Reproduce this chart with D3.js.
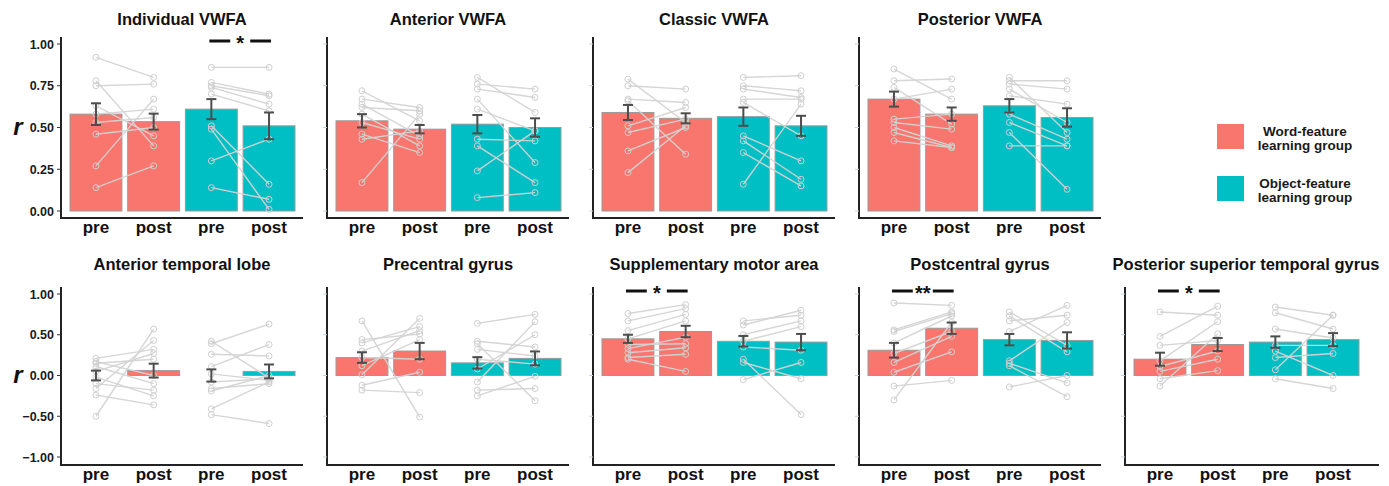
<!DOCTYPE html>
<html>
<head>
<meta charset="utf-8">
<script src="https://cdn.jsdelivr.net/npm/d3@7"></script>
<style>
  html, body { margin: 0; padding: 0; background: #fff; }
  svg { display: block; font-family: "Liberation Sans", Arial, sans-serif; }
</style>
</head>
<body>
<svg id="chart" width="1389" height="486"></svg>
<script>
// Regions of interest, one panel each
const regions = [
  "Individual VWFA", "Anterior VWFA", "Classic VWFA", "Posterior VWFA",
  "Anterior temporal lobe", "Precentral gyrus", "Supplementary motor area",
  "Postcentral gyrus", "Posterior superior temporal gyrus"
];

// Four bars per panel: word group pre/post, object group pre/post
const conditions = ["word-pre", "word-post", "object-pre", "object-post"];
const sessionLabels = ["pre", "post", "pre", "post"];
const groupColors = ["#F8766D", "#00BFC4"];
const legendLines = [["Word-feature", "learning group"], ["Object-feature", "learning group"]];

// Group mean r per region: [word pre, word post, object pre, object post]
const meanR = [
  [0.58, 0.535, 0.61, 0.51],
  [0.54, 0.49, 0.52, 0.50],
  [0.59, 0.555, 0.565, 0.51],
  [0.67, 0.58, 0.63, 0.56],
  [0.00, 0.06, 0.00, 0.05],
  [0.22, 0.30, 0.155, 0.21],
  [0.45, 0.54, 0.42, 0.41],
  [0.31, 0.58, 0.44, 0.43],
  [0.20, 0.38, 0.41, 0.44]
];

// Standard error of the mean, same layout as meanR
const seR = [
  [0.065, 0.048, 0.06, 0.08],
  [0.04, 0.025, 0.055, 0.055],
  [0.045, 0.03, 0.055, 0.06],
  [0.045, 0.04, 0.04, 0.055],
  [0.06, 0.085, 0.075, 0.085],
  [0.065, 0.10, 0.07, 0.085],
  [0.05, 0.07, 0.065, 0.10],
  [0.09, 0.07, 0.07, 0.10],
  [0.08, 0.08, 0.07, 0.08]
];

// Individual participants (word-feature group), pre and post, paired by position
const wordPre = [
  [0.92, 0.78, 0.75, 0.63, 0.58, 0.53, 0.46, 0.27, 0.14],
  [0.72, 0.67, 0.64, 0.62, 0.58, 0.53, 0.46, 0.43, 0.17],
  [0.79, 0.75, 0.67, 0.66, 0.51, 0.47, 0.36, 0.23],
  [0.85, 0.78, 0.74, 0.67, 0.55, 0.53, 0.50, 0.47, 0.42],
  [0.21, 0.17, 0.15, 0.11, 0.05, -0.02, -0.10, -0.16, -0.24, -0.50],
  [0.67, 0.44, 0.40, 0.30, 0.22, 0.12, 0.01, -0.12, -0.18],
  [0.76, 0.67, 0.55, 0.45, 0.38, 0.33, 0.28, 0.22, 0.20],
  [0.89, 0.56, 0.54, 0.40, 0.27, 0.16, 0.04, -0.13, -0.30],
  [0.78, 0.48, 0.37, 0.18, 0.11, 0.05, -0.04, -0.13]
];
const wordPost = [
  [0.80, 0.39, 0.76, 0.45, 0.61, 0.56, 0.50, 0.67, 0.27],
  [0.54, 0.62, 0.45, 0.60, 0.39, 0.43, 0.35, 0.48, 0.58],
  [0.53, 0.73, 0.65, 0.34, 0.62, 0.55, 0.50, 0.51],
  [0.67, 0.79, 0.52, 0.73, 0.58, 0.49, 0.39, 0.38, 0.38],
  [0.32, 0.00, 0.20, -0.10, 0.27, -0.25, -0.18, 0.43, -0.36, 0.57],
  [-0.51, 0.51, 0.60, 0.55, 0.20, 0.44, 0.70, 0.04, -0.21],
  [0.87, 0.82, 0.75, 0.67, 0.39, 0.47, 0.34, 0.26, 0.05],
  [0.86, 0.78, 0.76, 0.73, 0.54, 0.48, 0.29, -0.06, 0.65],
  [0.74, 0.85, 0.43, 0.66, 0.30, 0.20, 0.06, 0.51]
];

// Individual participants (object-feature group)
const objectPre = [
  [0.86, 0.77, 0.75, 0.74, 0.70, 0.51, 0.49, 0.30, 0.14],
  [0.80, 0.76, 0.73, 0.67, 0.61, 0.43, 0.39, 0.24, 0.08],
  [0.80, 0.75, 0.73, 0.67, 0.65, 0.45, 0.42, 0.35, 0.16],
  [0.80, 0.78, 0.76, 0.73, 0.69, 0.58, 0.53, 0.47, 0.39],
  [0.42, 0.39, 0.26, 0.11, 0.02, -0.08, -0.16, -0.19, -0.41, -0.48],
  [0.64, 0.42, 0.39, 0.32, 0.20, 0.08, -0.08, -0.18, -0.25],
  [0.67, 0.62, 0.50, 0.42, 0.35, 0.20, 0.16, -0.05],
  [0.78, 0.73, 0.67, 0.54, 0.18, 0.15, 0.12, -0.14],
  [0.84, 0.77, 0.57, 0.37, 0.30, 0.22, 0.07, -0.04]
];
const objectPost = [
  [0.86, 0.70, 0.69, 0.64, 0.60, 0.16, 0.01, 0.43, 0.07],
  [0.59, 0.73, 0.68, 0.29, 0.48, 0.42, 0.17, 0.48, 0.11],
  [0.81, 0.72, 0.68, 0.67, 0.45, 0.30, 0.19, 0.15, 0.64],
  [0.47, 0.78, 0.73, 0.53, 0.64, 0.43, 0.39, 0.13, 0.39],
  [-0.03, 0.63, 0.24, 0.38, -0.06, -0.04, -0.10, 0.00, -0.08, -0.59],
  [0.75, 0.35, -0.31, 0.24, 0.14, 0.50, 0.66, -0.16, -0.01],
  [0.74, 0.80, 0.67, 0.60, 0.31, -0.48, -0.04, 0.16],
  [0.37, 0.29, 0.74, 0.86, 0.65, -0.09, -0.26, 0.00],
  [0.74, 0.57, 0.46, 0.37, 0.00, 0.27, 0.74, -0.16]
];

// Significant pre vs post comparisons
const sigRegion = [0, 6, 7, 8];
const sigFrom = [2, 0, 0, 0];
const sigTo = [3, 1, 1, 1];
const sigLabel = ["*", "*", "**", "*"];

// Y axis ticks for the two rows
const topTicks = [0, 0.25, 0.5, 0.75, 1];
const bottomTicks = [-1, -0.5, 0, 0.5, 1];

const svg = d3.select("#chart");

const rowSpec = [
  { domain: [0, 1], range: [211, 44], top: 37, bottom: 218, ticks: topTicks, fmt: d3.format(".2f"), titleY: 25 },
  { domain: [-1, 1], range: [457, 294], top: 287, bottom: 465, ticks: bottomTicks, fmt: d3.format(".2f"), titleY: 270 }
];

const axisX0 = 61, colStep = 266;

regions.forEach((name, ri) => {
  const row = ri < 4 ? 0 : 1;
  const col = ri < 4 ? ri : ri - 4;
  const spec = rowSpec[row];
  const ax = axisX0 + col * colStep;
  const axisLen = ri === regions.length - 1 ? 254 : 242;

  const y = d3.scaleLinear().domain(spec.domain).range(spec.range);
  const x = d3.scaleBand().domain(conditions).range([ax + 9, ax + 234]).paddingInner(0.1).paddingOuter(0);
  const cx = c => x(c) + x.bandwidth() / 2;

  const g = svg.append("g");

  // Title
  g.append("text")
    .attr("x", ax + axisLen / 2 - (ri === regions.length - 1 ? 6 : 0))
    .attr("y", spec.titleY)
    .attr("text-anchor", "middle")
    .attr("font-size", 16.5).attr("font-weight", "bold").attr("fill", "#111")
    .text(name);

  // Bars
  g.selectAll("rect.bar").data(conditions).join("rect")
    .attr("class", "bar")
    .attr("x", c => x(c))
    .attr("width", x.bandwidth())
    .attr("y", (c, i) => Math.min(y(meanR[ri][i]), y(0)))
    .attr("height", (c, i) => Math.abs(y(meanR[ri][i]) - y(0)))
    .attr("fill", (c, i) => groupColors[i < 2 ? 0 : 1])
    .attr("stroke", "#9a9a9a").attr("stroke-width", 1);

  // Participant lines and points
  const groupsData = [[wordPre[ri], wordPost[ri], 0], [objectPre[ri], objectPost[ri], 2]];
  groupsData.forEach(([pre, post, k]) => {
    const xa = cx(conditions[k]), xb = cx(conditions[k + 1]);
    g.selectAll(null).data(pre).join("line")
      .attr("x1", xa).attr("x2", xb)
      .attr("y1", d => y(d)).attr("y2", (d, j) => y(post[j]))
      .attr("stroke", "#d4d4d4").attr("stroke-width", 1.4).attr("opacity", 0.95);
    g.selectAll(null).data(pre).join("circle")
      .attr("cx", xa).attr("cy", d => y(d)).attr("r", 3)
      .attr("fill", "none").attr("stroke", "#cfcfcf").attr("stroke-width", 1);
    g.selectAll(null).data(post).join("circle")
      .attr("cx", xb).attr("cy", d => y(d)).attr("r", 3)
      .attr("fill", "none").attr("stroke", "#cfcfcf").attr("stroke-width", 1);
  });

  // Error bars
  conditions.forEach((c, i) => {
    const m = meanR[ri][i], s = seR[ri][i];
    const xc = cx(c);
    const eb = g.append("g").attr("stroke", "#4d4d4d").attr("stroke-width", 2);
    eb.append("line").attr("x1", xc).attr("x2", xc).attr("y1", y(m - s)).attr("y2", y(m + s));
    eb.append("line").attr("x1", xc - 5).attr("x2", xc + 5).attr("y1", y(m - s)).attr("y2", y(m - s));
    eb.append("line").attr("x1", xc - 5).attr("x2", xc + 5).attr("y1", y(m + s)).attr("y2", y(m + s));
  });

  // Axes
  g.append("line").attr("x1", ax).attr("x2", ax).attr("y1", spec.top).attr("y2", spec.bottom + 1)
    .attr("stroke", "#222").attr("stroke-width", 2);
  g.append("line").attr("x1", ax - 1).attr("x2", ax + axisLen).attr("y1", spec.bottom).attr("y2", spec.bottom)
    .attr("stroke", "#222").attr("stroke-width", 2);

  const first = col === 0;
  g.selectAll(null).data(spec.ticks).join("line")
    .attr("x1", ax - 4).attr("x2", ax)
    .attr("y1", d => y(d)).attr("y2", d => y(d))
    .attr("stroke", first ? "#333" : "#c9d3dc").attr("stroke-width", 1);
  if (first) {
    g.selectAll(null).data(spec.ticks).join("text")
      .attr("x", ax - 7).attr("y", d => y(d))
      .attr("dy", "0.36em").attr("text-anchor", "end")
      .attr("font-size", 12.5).attr("font-weight", "bold").attr("fill", "#1a1a1a")
      .text(d => spec.fmt(d));
    g.append("text")
      .attr("x", 18).attr("y", y(row === 0 ? 0.5 : 0))
      .attr("dy", "0.3em").attr("text-anchor", "middle")
      .attr("font-size", 24).attr("font-weight", "bold").attr("font-style", "italic").attr("fill", "#111")
      .text("r");
  }

  // Session labels
  g.selectAll(null).data(conditions).join("text")
    .attr("x", c => cx(c)).attr("y", spec.bottom + 15)
    .attr("text-anchor", "middle")
    .attr("font-size", 17).attr("font-weight", "bold").attr("fill", "#111")
    .text((c, i) => sessionLabels[i]);

  // Significance markers
  sigRegion.forEach((r, si) => {
    if (r !== ri) return;
    const xa = cx(conditions[sigFrom[si]]), xb = cx(conditions[sigTo[si]]);
    const mid = (xa + xb) / 2, gap = 10;
    const ys = spec.top + 4;
    g.append("line").attr("x1", xa - 2).attr("x2", mid - gap).attr("y1", ys).attr("y2", ys)
      .attr("stroke", "#111").attr("stroke-width", 3);
    g.append("line").attr("x1", mid + gap).attr("x2", xb + 2).attr("y1", ys).attr("y2", ys)
      .attr("stroke", "#111").attr("stroke-width", 3);
    g.append("text").attr("x", mid).attr("y", ys + 9)
      .attr("text-anchor", "middle")
      .attr("font-size", 20).attr("font-weight", "bold").attr("fill", "#111")
      .text(sigLabel[si]);
  });
});

// Legend
const legend = svg.append("g");
const legendY = [124, 176];
groupColors.forEach((col, i) => {
  legend.append("rect")
    .attr("x", 1217).attr("y", legendY[i]).attr("width", 27).attr("height", 25)
    .attr("fill", col);
  legendLines[i].forEach((t, j) => {
    legend.append("text")
      .attr("x", 1305).attr("y", legendY[i] + 12 + j * 14)
      .attr("text-anchor", "middle")
      .attr("font-size", 13.5).attr("font-weight", "bold").attr("fill", "#1a1a1a")
      .text(t);
  });
});
</script>
</body>
</html>
